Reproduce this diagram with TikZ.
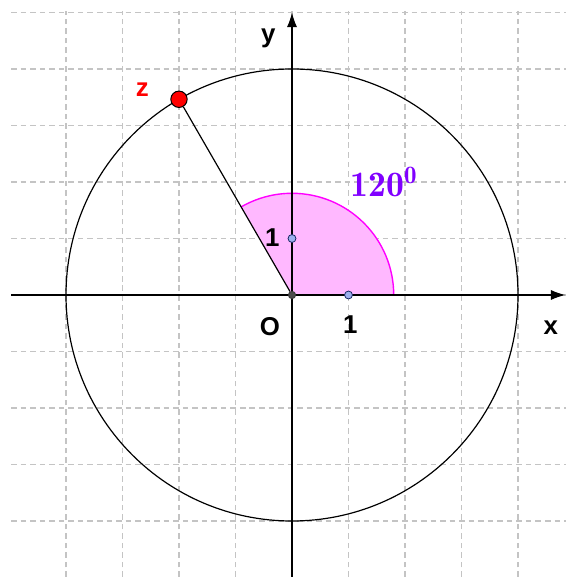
\documentclass[tikz,border=0pt]{standalone}
\usepackage{fontspec}
\setsansfont{Liberation Sans}
\usetikzlibrary{positioning,arrows.meta,calc}
\definecolor{rejilla}{HTML}{C4C4C4}
\definecolor{sectorRosa}{HTML}{FFB8FF}
\definecolor{sectorBorde}{HTML}{FF00FF}
\definecolor{anguloVioleta}{HTML}{8000FF}
\definecolor{puntoAzul}{HTML}{9DB0EE}
\definecolor{puntoBorde}{HTML}{1A2A66}
\tikzset{
  cuadricula/.style={rejilla, line width=0.6pt, dash pattern=on 2.8pt off 2pt},
  eje/.style={-{Latex[length=2.6mm,width=1.8mm]}, line width=0.6pt, black},
  curva/.style={line width=0.6pt, black},
  punto/.style={circle, draw=puntoBorde, fill=puntoAzul, line width=0.4pt,
    inner sep=0pt, minimum size=1.4mm},
  origen/.style={circle, draw=black!80, fill=black!70, inner sep=0pt, minimum size=1.3mm},
  puntoZ/.style={circle, draw=black, fill=red, line width=0.5pt,
    inner sep=0pt, minimum size=2.9mm},
  etiqueta/.style={font=\sffamily\bfseries\fontsize{13}{15}\selectfont, inner sep=1pt},
}
\begin{document}
\begin{tikzpicture}
  \useasboundingbox (-5.168,-4.991) rectangle (4.85,5.221);
  % cuadricula
  \foreach \k in {-4,...,5}
    \draw[cuadricula] (-4.97,\k) -- (4.85,\k);
  \foreach \k in {-4,...,4}
    \draw[cuadricula] (\k,-4.991) -- (\k,5.02);
  % sector de 120 grados
  \fill[sectorRosa] (0,0) -- (1.8,0) arc (0:120:1.8) -- cycle;
  \draw[sectorBorde, line width=0.7pt] (0,0) -- (1.8,0) arc (0:120:1.8);
  % circunferencia de radio 4
  \draw[curva] (0,0) circle (4);
  % ejes
  \coordinate (xi) at (-4.97,0);
  \coordinate (xf) at (4.84,0);
  \coordinate (yi) at (0,-4.991);
  \coordinate (yf) at (0,5.0);
  \draw[eje] (xi) -- (xf);
  \draw[eje] (yi) -- (yf);
  % puntos
  \node[origen] (O) at (0,0) {};
  \node[punto] (uno) at (1,0) {};
  \node[punto] (unoY) at (0,1) {};
  \node[puntoZ] (z) at (120:4) {};
  \draw[curva] (O) -- (z);
  % etiquetas
  \node[etiqueta] (ly) at (-0.42,4.55) {y};
  \node[etiqueta, text=red] (lz) at (-2.65,3.63) {z};
  \node[etiqueta] (l1y) at (-0.35,1.01) {1};
  \node[etiqueta] (lO) at (-0.39,-0.56) {O};
  \node[etiqueta] (l1x) at (1.03,-0.53) {1};
  \node[etiqueta] (lx) at (4.58,-0.58) {x};
  \node[text=anguloVioleta, font=\bfseries\fontsize{18}{21}\selectfont, inner sep=0pt]
    (ang) at (1.63,2.0) {$\mathbf{120^0}$};
\end{tikzpicture}
\end{document}
